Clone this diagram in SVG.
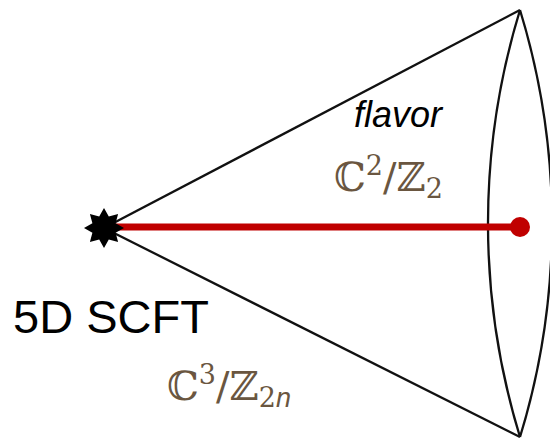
<svg xmlns="http://www.w3.org/2000/svg" width="550" height="447" viewBox="0 0 550 447">
<style>
.ln{stroke:#111;stroke-width:2.3;fill:none}
.math{font-family:"DejaVu Serif","Liberation Serif",serif;fill:#6a5640}
</style>
<rect width="550" height="447" fill="#fff"/>
<g id="connectors">
<path class="ln" d="M104 228 L520 10"/>
<path class="ln" d="M104 228 L520 437"/>
<path class="ln" d="M520 10 A728 728 0 0 0 520 437"/>
<path class="ln" d="M520 10 A728 728 0 0 1 520 437"/>
<line x1="112" y1="227" x2="520" y2="227" stroke="#c00000" stroke-width="7"/>
</g>
<g id="scft">
<polygon fill="#000" points="104,208 108.8,216.4 118.1,213.9 115.6,223.2 124,228 115.6,232.8 118.1,242.1 108.8,239.6 104,248 99.2,239.6 89.9,242.1 92.4,232.8 84,228 92.4,223.2 89.9,213.9 99.2,216.4"/>
<text x="13" y="333" font-family="Liberation Sans,Arial,sans-serif" font-size="47" fill="#000">5D SCFT</text>
</g>
<g id="flavor">
<circle cx="520" cy="227" r="10" fill="#c00000"/>
<text x="354" y="127" font-family="Liberation Sans,Arial,sans-serif" font-size="36" font-style="italic" fill="#000">flavor</text>
<text class="math" x="334" y="191" font-size="40">ℂ<tspan font-size="27" dy="-16">2</tspan><tspan dy="16">/ℤ</tspan><tspan font-size="27" dy="7">2</tspan></text>
</g>
<g id="bulk">
<text class="math" x="167" y="400" font-size="40">ℂ<tspan font-size="27" dy="-16">3</tspan><tspan dy="16">/ℤ</tspan><tspan font-size="27" dy="7">2</tspan><tspan font-size="27" font-style="italic" font-family="Liberation Sans,Arial,sans-serif">n</tspan></text>
</g>
</svg>
